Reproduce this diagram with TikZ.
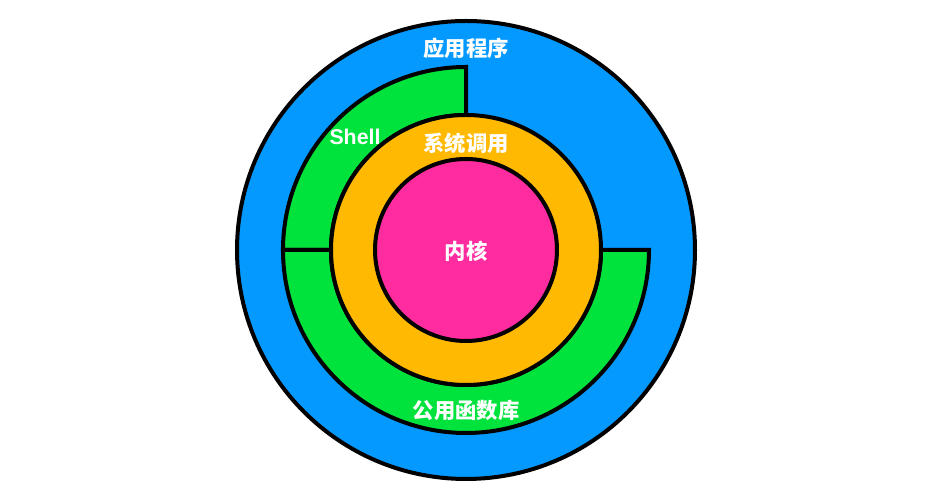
\documentclass[tikz,border=0pt]{standalone}
\usepackage{fontspec}
\setmainfont{Liberation Sans}
\newfontfamily\cjk{Noto Sans CJK SC}
\usepackage{xcolor}
\usetikzlibrary{positioning}

\definecolor{appblue}{RGB}{4,153,255}
\definecolor{shellgreen}{RGB}{0,226,60}
\definecolor{calloran}{RGB}{255,185,0}
\definecolor{kernpink}{RGB}{255,44,160}

\tikzset{
  layer/.style={circle, draw=black, line width=3pt, inner sep=0pt},
  ring/.style={draw=black, line width=3pt, fill=shellgreen},
  lbl/.style={text=white, font=\bfseries\fontsize{16}{19}\selectfont}
}

\begin{document}
\begin{tikzpicture}[x=0.75pt, y=0.75pt]
    \useasboundingbox (0,0) rectangle (936,498);
    \coordinate (c) at (466,248);
    \node (app) [layer, fill=appblue, minimum size=343.5pt] at (c) {};
    % shell and library rings
    \draw[ring] (c) ++(90:183) arc[start angle=90, end angle=180, radius=183] -- ++(48,0) arc[start angle=180, end angle=90, radius=135] -- cycle;
    \draw[ring] (c) ++(180:183) arc[start angle=180, end angle=360, radius=183] -- ++(-48,0) arc[start angle=0, end angle=-180, radius=135] -- cycle;
    \node (sys) [layer, fill=calloran, minimum size=202.5pt] at (c) {};
    \node (kern) [layer, fill=kernpink, minimum size=136.5pt] at (c) {};
    % labels
    \node (apptext) [lbl] at (466,450) {\cjk 应用程序};
    \node (shelltext) [lbl] at (355,361) {Shell};
    \node (systext) [lbl] at (466,355) {\cjk 系统调用};
    \node (kerntext) [lbl] at (466,247) {\cjk 内核};
    \node (libtext) [lbl] at (466,88) {\cjk 公用函数库};
\end{tikzpicture}
\end{document}
